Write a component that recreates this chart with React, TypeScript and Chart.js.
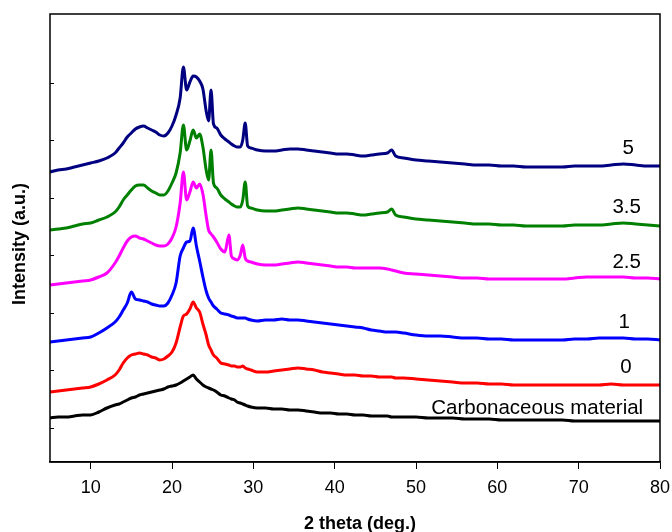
import { useEffect, useRef } from "react";
import { Chart, registerables } from "chart.js";

Chart.register(...registerables);

// 2-theta positions (deg.)
const twoTheta = [5,6,7,8,9,10,11,12,13,13.5,14,14.5,15,15.5,16,16.5,17,17.5,18,18.5,19,19.5,20,20.5,21,21.4,21.8,22.2,22.6,23,23.4,23.8,24.2,24.5,24.8,25.1,25.5,26,26.5,27,27.3,27.7,28,28.4,28.7,29,29.3,29.7,30.5,31.5,32.5,33.5,34.5,35.5,36.5,37.5,38.5,39.5,40.5,41.5,42.5,43.5,44.5,45.5,46.5,47,47.5,48.5,50,51.5,53,54.5,56,57.5,59,60.5,62,63.5,65,66.5,68,69.5,71,72.5,74,75.5,77,78.5,80];

// Stacked intensities (a.u.)
const sample5 = [290,292,293,295,297,299,301,304,309,
  314,319,325,329,333,335,336,334,332,330,327,326,329,336,347,
  364,395,372,380,386,385,381,373,351,341,372,338,334,327,323,320,318,316,315,315,322,339,316,314,
  312,311,311,312,313,313,312,311,310,309,308,308,307,306,307,308,309,
  312,306,304,
  302,301,300,299,298,297,297,296,296,295,295,295,295,296,296,296,297,298,297,296,
  296];
const sample35 = [232,233,234,236,238,239,242,245,250,
  255,262,267,272,276,277,277,274,271,269,267,267,271,279,289,
  309,337,312,321,332,324,328,315,292,282,312,279,274,267,263,260,258,256,255,255,262,280,256,254,
  252,251,251,252,253,254,253,252,251,250,249,249,248,247,248,249,250,
  253,247,245,
  243,242,241,240,239,238,238,237,237,236,236,236,236,237,237,237,238,239,238,237,
  236];
const sample25 = [177,178,179,180,181,182,185,189,199,
  206,214,221,225,226,224,223,221,219,217,216,216,218,224,235,
  259,290,262,270,280,274,278,268,246,232,228,225,220,213,210,227,206,203,202,207,217,204,201,200,
  198,197,197,198,199,200,199,198,197,196,195,195,194,194,194,194,193,
  192,191,189,
  188,187,186,185,184,184,183,183,183,183,183,183,183,184,185,185,185,185,184,184,
  183];
const sample1 = [120,121,122,123,124,125,129,134,140,
  145,152,159,170,163,162,161,160,158,157,156,156,159,167,179,
  206,214,220,221,234,216,201,185,171,164,160,156,153,149,148,147,146,145,144,144,144,144,143,142,
  141,142,142,143,142,142,141,140,139,138,137,136,135,134,132,131,130,
  130,130,129,
  127,126,126,125,124,124,123,123,122,122,122,122,122,123,123,124,124,124,123,123,
  122];
const sample0 = [70,71,72,73,74,75,78,82,87,
  92,99,104,107,108,109,108,107,105,104,102,103,106,110,119,
  135,146,148,153,160,154,150,138,127,117,112,107,104,99,98,97,96,96,95,95,96,94,93,92,
  90,90,91,92,93,94,93,92,90,89,88,87,87,86,86,85,85,
  85,84,84,
  83,82,81,80,79,79,78,78,77,77,77,77,77,77,77,77,78,77,77,77,
  77];
const carbonaceous = [44,45,45,46,47,47,50,54,57,
  58,60,62,64,65,67,68,69,70,71,72,73,75,76,77,
  79,81,83,85,87,83,80,77,75,74,73,72,70,67,66,64,63,62,60,59,58,57,56,55,
  54,54,53,53,52,52,51,50,49,49,48,48,47,47,46,46,46,
  45,45,45,
  45,44,44,44,43,43,43,42,42,42,42,42,42,41,41,41,41,41,41,41,
  41];

const seriesNames = ["Carbonaceous material", "0", "1", "2.5", "3.5", "5"];
const seriesValues = [carbonaceous, sample0, sample1, sample25, sample35, sample5];
const seriesColors = ["#000000", "#ff0000", "#0000ff", "#ff00ff", "#008000", "#000080"];

const xTicks = [10, 20, 30, 40, 50, 60, 70, 80];
const yTicks = [34.5, 92, 149.5, 207, 264.5, 322, 379.5];

// label anchors in data coordinates
const labelAnchorX = [64.9, 75.8, 75.6, 75.9, 75.9, 76.1];
const labelAnchorY = [54, 95, 140, 200, 255, 314];

const FONT = "'Liberation Sans', Arial, Helvetica, sans-serif";

const decor = {
  id: "decor",
  afterDraw(chart: any) {
    const { ctx, chartArea: a, scales } = chart;
    const xs = scales.x;
    const ys = scales.y;
    ctx.save();
    ctx.strokeStyle = "#000";
    ctx.lineWidth = 1.5;
    ctx.strokeRect(a.left, a.top, a.right - a.left, a.bottom - a.top);
    ctx.lineWidth = 1;
    for (const v of yTicks) {
      const py = Math.round(ys.getPixelForValue(v)) + 0.5;
      ctx.beginPath();
      ctx.moveTo(a.left, py);
      ctx.lineTo(a.left + 4, py);
      ctx.stroke();
    }
    ctx.fillStyle = "#000";
    ctx.font = `20.5px ${FONT}`;
    ctx.textAlign = "center";
    ctx.textBaseline = "middle";
    seriesNames.forEach((name, i) => {
      ctx.fillText(name, xs.getPixelForValue(labelAnchorX[i]), ys.getPixelForValue(labelAnchorY[i]));
    });
    ctx.font = `bold 18px ${FONT}`;
    ctx.fillText("2 theta (deg.)", (a.left + a.right) / 2 + 5, a.bottom + 62);
    ctx.translate(20, (a.top + a.bottom) / 2 + 6);
    ctx.rotate(-Math.PI / 2);
    ctx.fillText("Intensity (a.u.)", 0, 0);
    ctx.restore();
  },
};

export default function App() {
  const ref = useRef<HTMLCanvasElement | null>(null);
  useEffect(() => {
    if (!ref.current) return;
    Chart.defaults.font.family = FONT;
    const chart = new Chart(ref.current, {
      type: "line",
      data: {
        datasets: seriesValues.map((vals, i) => ({
          label: seriesNames[i],
          data: twoTheta.map((x, j) => ({ x, y: vals[j] })),
          borderColor: seriesColors[i],
          backgroundColor: seriesColors[i],
          borderWidth: 3,
          pointRadius: 0,
          cubicInterpolationMode: "monotone" as const,
          fill: false,
        })),
      },
      options: {
        animation: false,
        responsive: true,
        maintainAspectRatio: false,
        layout: { padding: { left: 50, right: 12, top: 14, bottom: 0 } },
        plugins: { legend: { display: false }, tooltip: { enabled: false } },
        scales: {
          x: {
            type: "linear",
            min: 5,
            max: 80,
            afterBuildTicks: (s: any) => {
              s.ticks = xTicks.map((v) => ({ value: v }));
            },
            afterFit: (s: any) => {
              s.height = 70;
              s.paddingLeft = 0;
              s.paddingRight = 0;
            },
            grid: { drawOnChartArea: false, drawTicks: true, tickLength: 7, color: "#000", lineWidth: 1 },
            border: { display: true, color: "#000", width: 1.5 },
            ticks: { color: "#000", font: { size: 18 }, padding: 8, maxRotation: 0, autoSkip: false },
          },
          y: {
            display: false,
            min: 0,
            max: 448,
          },
        },
      },
      plugins: [decor],
    });
    return () => chart.destroy();
  }, []);
  return (
    <div style={{ position: "fixed", left: 0, top: 0, width: 672, height: 532, background: "#fff" }}>
      <canvas ref={ref} />
    </div>
  );
}
